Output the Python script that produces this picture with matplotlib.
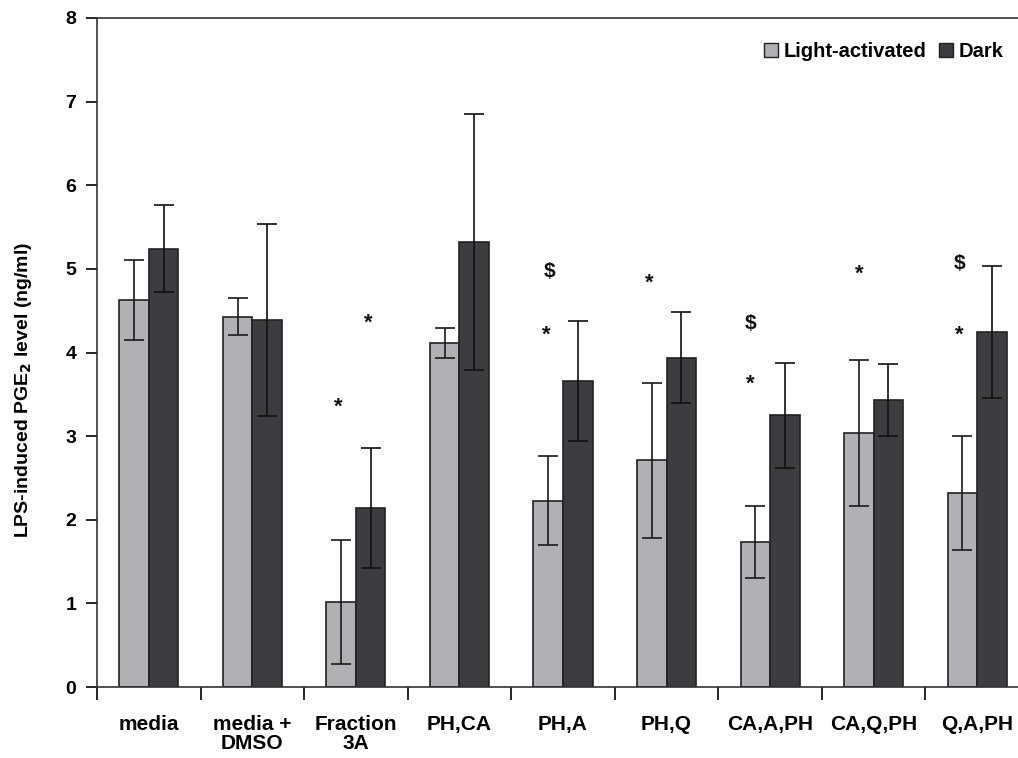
import matplotlib
matplotlib.use("Agg")
import matplotlib.pyplot as plt
from matplotlib.patches import Patch
import numpy as np

plt.rcParams['font.family'] = ['Liberation Sans', 'DejaVu Sans']
plt.rcParams['font.weight'] = 'bold'

# data
categories = ['media', 'media +\nDMSO', 'Fraction\n3A', 'PH,CA', 'PH,A',
              'PH,Q', 'CA,A,PH', 'CA,Q,PH', 'Q,A,PH']
light = [4.63, 4.43, 1.02, 4.11, 2.23, 2.71, 1.73, 3.04, 2.32]
light_err = [0.48, 0.22, 0.74, 0.18, 0.53, 0.93, 0.43, 0.87, 0.68]
dark = [5.24, 4.39, 2.14, 5.32, 3.66, 3.94, 3.25, 3.43, 4.24]
dark_err = [0.52, 1.15, 0.72, 1.53, 0.72, 0.54, 0.63, 0.43, 0.79]

# significance marks: (category index, offset, y value, symbol)
marks = [(2, -0.17, 3.35, '*'), (2, 0.12, 4.35, '*'),
         (4, -0.13, 4.97, '$'), (4, -0.16, 4.21, '*'),
         (5, -0.17, 4.83, '*'),
         (6, -0.19, 4.35, '$'), (6, -0.19, 3.62, '*'),
         (7, -0.14, 4.94, '*'),
         (8, -0.17, 5.06, '$'), (8, -0.17, 4.21, '*')]

light_col = '#b0b1b5'
dark_col = '#3c3d40'
edge = '#222222'

fig = plt.figure(figsize=(10.18, 7.58), dpi=100)
ax = fig.add_axes([97 / 1018, 71 / 758, 932 / 1018, 669 / 758])

x = np.arange(len(categories))
w = 0.285
ax.bar(x - w / 2, light, w, color=light_col, edgecolor=edge, linewidth=1.2, zorder=2)
ax.bar(x + w / 2, dark, w, color=dark_col, edgecolor=edge, linewidth=1.2, zorder=2)
ax.errorbar(x - w / 2, light, yerr=light_err, fmt='none', ecolor='#1a1a1a',
            elinewidth=1.2, capsize=7, capthick=1.2, zorder=3)
ax.errorbar(x + w / 2, dark, yerr=dark_err, fmt='none', ecolor='#111111',
            elinewidth=1.2, capsize=7, capthick=1.2, zorder=3)

for i, off, yv, sym in marks:
    ax.text(i + off, yv, sym, ha='center', va='center',
            fontsize=16 if sym == '*' else 15, fontweight='bold', color='#111111')

ax.set_xlim(-0.5, 8.5)
ax.set_ylim(0, 8)
ax.set_yticks(range(0, 9))
ax.tick_params(axis='y', direction='out', length=8, width=1.2, labelsize=14, pad=7)

ax.set_xticks(np.arange(-0.5, 8.5, 1.0))
ax.set_xticklabels([])
ax.tick_params(axis='x', which='major', direction='out', length=9, width=1.2)
ax.set_xticks(x, minor=True)
ax.set_xticklabels(categories, minor=True, fontsize=15, fontweight='bold',
                   linespacing=1.0)
ax.tick_params(axis='x', which='minor', length=0, pad=20)

for s in ax.spines.values():
    s.set_linewidth(1.2)
    s.set_color('#333333')
ax.spines['right'].set_visible(False)

ax.set_ylabel('LPS-induced PGE$_\\mathbf{2}$ level (ng/ml)', fontsize=14,
              fontweight='bold')
ax.yaxis.set_label_coords(-0.068, 0.444)

handles = [Patch(facecolor=light_col, edgecolor=edge, linewidth=1.0, label='Light-activated'),
           Patch(facecolor=dark_col, edgecolor=edge, linewidth=1.0, label='Dark')]
fig.legend(handles=handles, loc='upper right', bbox_to_anchor=(1022 / 1018, 1 - 24 / 758),
           ncol=2, frameon=False, handlelength=0.7, handleheight=0.7,
           handletextpad=0.3, columnspacing=0.6, prop={'size': 14.5, 'weight': 'bold'})

fig.savefig('out.png', dpi=100)
